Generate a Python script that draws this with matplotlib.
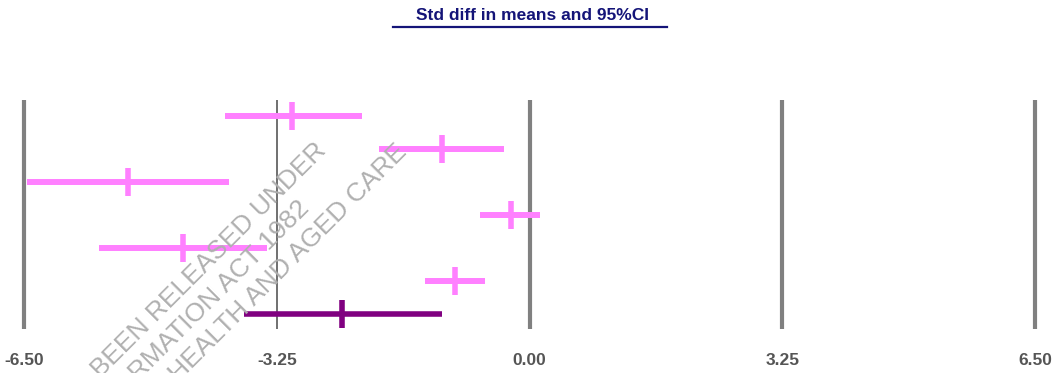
import matplotlib.pyplot as plt

# forest plot values (std diff in means, lower / point / upper)
study_lower = [-3.92, -1.93, -6.46, -0.64, -5.53, -1.35]
study_point = [-3.05, -1.13, -5.16, -0.24, -4.46, -0.96]
study_upper = [-2.15, -0.33, -3.86, 0.14, -3.37, -0.57]
summary_lower = -3.67
summary_point = -2.41
summary_upper = -1.13
tick_values = [-6.5, -3.25, 0.0, 3.25, 6.5]
tick_labels = ["-6.50", "-3.25", "0.00", "3.25", "6.50"]

STUDY_COLOR = "#FF80FF"
SUMMARY_COLOR = "#800080"
W, H = 1057, 373

fig = plt.figure(figsize=(W / 100, H / 100), dpi=100)
ax = fig.add_axes([0, 0, 1, 1])
ax.set_xlim(-6.809, 6.783)
ax.set_ylim(7.788, -3.515)
ax.axis("off")

# reference lines
for v in tick_values:
    if v == -3.25:
        ax.vlines(v, -0.485, 6.455, color="#707070", linewidth=1.4, zorder=1)
    else:
        ax.vlines(v, -0.485, 6.455, color="#808080", linewidth=3.0, zorder=1)

# studies
for i, (lo, pt, hi) in enumerate(zip(study_lower, study_point, study_upper)):
    ax.plot([lo, hi], [i, i], color=STUDY_COLOR, linewidth=4.3,
            solid_capstyle="butt", zorder=3)
    ax.plot([pt, pt], [i - 0.42, i + 0.42], color=STUDY_COLOR, linewidth=4.0,
            solid_capstyle="butt", zorder=3)

# summary
row = len(study_point)
ax.plot([summary_lower, summary_upper], [row, row], color=SUMMARY_COLOR,
        linewidth=4.0, solid_capstyle="butt", zorder=3)
ax.plot([summary_point, summary_point], [row - 0.42, row + 0.42],
        color=SUMMARY_COLOR, linewidth=4.0, solid_capstyle="butt", zorder=3)

# tick labels
for v, lab in zip(tick_values, tick_labels):
    ax.text(v, 7.42, lab, ha="center", va="center", fontsize=12.5,
            fontweight="bold", color="#555555", family="Liberation Sans",
            zorder=4)

# title with underline
fig.text(532 / W, 1 - 16 / H, "Std diff in means and 95%CI", ha="center",
         va="center", fontsize=12.5, fontweight="bold", color="#141478",
         family="Liberation Sans")
fig.add_artist(plt.Line2D([393 / W, 667 / W], [1 - 27 / H, 1 - 27 / H],
                          color="#141478", linewidth=1.6))

# FOI watermark
watermark = [
    ("THIS DOCUMENT HAS BEEN RELEASED UNDER", 327, 152),
    ("THE FREEDOM OF INFORMATION ACT 1982", 310, 210),
    ("BY THE DEPARTMENT OF HEALTH AND AGED CARE", 408, 153),
]
for text, px, py in watermark:
    fig.text(px / W, 1 - py / H, text, rotation=45, rotation_mode="anchor",
             ha="right", va="baseline", fontsize=19, color="#B0B0B0",
             family="Liberation Sans", zorder=0)

fig.savefig("out.png", dpi=100)
